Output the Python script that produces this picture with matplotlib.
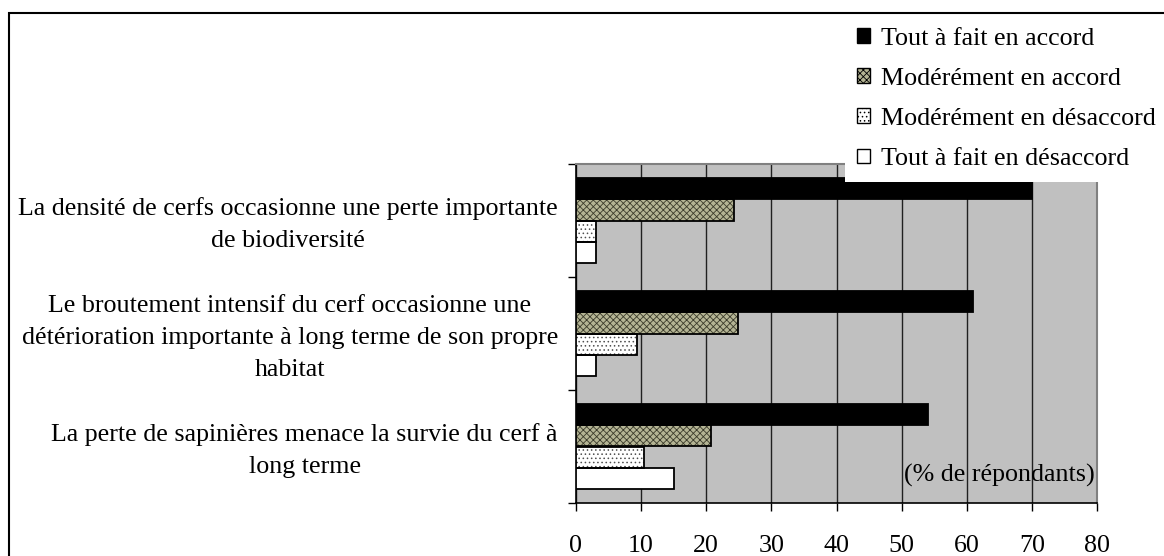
import numpy as np
import matplotlib
matplotlib.use("Agg")
import matplotlib.pyplot as plt
from matplotlib.patches import Rectangle

plt.rcParams['font.family'] = ['Liberation Serif', 'DejaVu Serif']
plt.rcParams['hatch.linewidth'] = 0.6

# données (% de répondants)
categories = [
    "La densité de cerfs occasionne une perte importante\nde biodiversité",
    "Le broutement intensif du cerf occasionne une\ndétérioration importante à long terme de son propre\nhabitat",
    "La perte de sapinières menace la survie du cerf à\nlong terme",
]
series = ["Tout à fait en accord", "Modérément en accord",
          "Modérément en désaccord", "Tout à fait en désaccord"]
tout_accord = [70, 61, 54]
mod_accord = [24.3, 24.9, 20.7]
mod_desaccord = [3.0, 9.3, 10.4]
tout_desaccord = [3.0, 3.0, 15.0]
xticks = [0, 10, 20, 30, 40, 50, 60, 70, 80]

fs = 18.7
fig = plt.figure(figsize=(11.64, 5.56), dpi=100)
ax = fig.add_axes([576/1164, 1-503/556, (1097-576)/1164, (503-164)/556])
ax.set_facecolor('#c0c0c0')

y = np.arange(len(categories))
h = 0.186
styles = [
    dict(color='black', edgecolor='black'),
    dict(color='#b4b494', edgecolor='#3c3c2c', hatch='xxxxx'),
    dict(color='white', edgecolor='#505050', hatch='....'),
    dict(color='white', edgecolor='black'),
]
vals = [tout_accord, mod_accord, mod_desaccord, tout_desaccord]
handles = []
for i, (v, st) in enumerate(zip(vals, styles)):
    b = ax.barh(y + (i - 1.5) * h, v, height=h, linewidth=0, zorder=3, **st)
    # contour noir
    ax.barh(y + (i - 1.5) * h, v, height=h, fill=False, edgecolor='black',
            linewidth=1.3, zorder=4)
    handles.append(b)

ax.set_xlim(0, 80)
ax.set_ylim(2.5, -0.5)
ax.set_xticks(xticks)
ax.set_xticklabels([str(t) for t in xticks], fontsize=fs)
ax.set_yticks([-0.5, 0.5, 1.5, 2.5])
ax.set_yticklabels([])
ax.set_yticks(y - 0.03, minor=True)
ax.set_yticklabels(categories, minor=True, fontsize=fs, multialignment='center',
                   linespacing=1.6)
ax.tick_params(axis='y', which='minor', length=0, pad=13)
ax.tick_params(axis='y', which='major', length=6, width=1, direction='out')
ax.tick_params(axis='x', length=6, width=1, direction='out', pad=17)
ax.xaxis.grid(True, color='#202020', linewidth=1)
ax.set_axisbelow(True)
for s in ['top', 'right']:
    ax.spines[s].set_color('#808080')
    ax.spines[s].set_linewidth(1.5)
ax.spines['left'].set_linewidth(1.2)
ax.spines['bottom'].set_linewidth(1.2)

ax.text(0.995, 0.08, "(% de répondants)", transform=ax.transAxes,
        ha='right', va='center', fontsize=fs)

leg = fig.legend(handles, series, loc='upper left',
                 bbox_to_anchor=(845/1164, 1-16/556), fontsize=fs,
                 handlelength=0.5, handleheight=0.5, handletextpad=0.42,
                 labelspacing=0.7, borderpad=0.45, borderaxespad=0,
                 fancybox=False, frameon=True, framealpha=1)
leg.get_frame().set_facecolor('white')
leg.get_frame().set_edgecolor('none')
for p in leg.get_patches():
    p.set_edgecolor('black')
    p.set_linewidth(1)

# cadre de la figure
fig.patches.append(Rectangle((9/1164, -0.1), 1.2, 1 - 13/556 + 0.1, fill=False,
                             edgecolor='black', linewidth=1.5,
                             transform=fig.transFigure, figure=fig))

fig.savefig("out.png", dpi=100)
